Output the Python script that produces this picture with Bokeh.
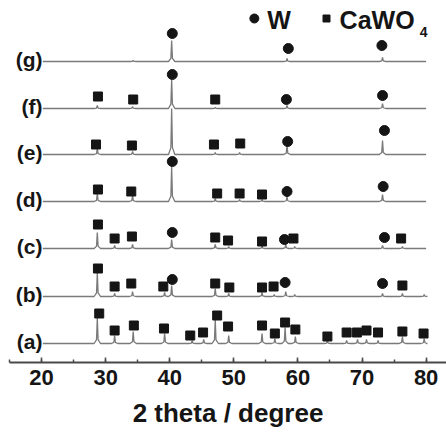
from bokeh.plotting import figure
from bokeh.models import Range1d, SingleIntervalTicker
from bokeh.embed import file_html
from bokeh.resources import INLINE
from bokeh.core.properties import value

# ---------------- data ----------------
scan_start = 20.2
scan_end = 80.0
x_title = "2 theta / degree"

sample_labels = ["(a)", "(b)", "(c)", "(d)", "(e)", "(f)", "(g)"]
# vertical stacking offset of each pattern (px above the axis)
stack_offset = [19, 66, 114, 161, 208, 254, 301]

# peak positions (2theta) and peak intensities (arb., px)
a_peak_pos = [28.7, 31.4, 34.3, 39.2, 43.5, 45.3, 47.1, 49.2, 54.4, 56.4, 58.0, 59.6, 64.6, 67.6, 69.3, 70.7, 72.5, 76.3, 79.7]
a_peak_int = [26, 8, 12, 10, 3, 4, 24, 8, 10, 5, 16, 7, 3, 3, 4, 4, 3, 7, 5]
b_peak_pos = [28.7, 31.4, 34.2, 39.2, 40.3, 47.1, 49.2, 54.4, 56.3, 58.1, 59.5, 73.2, 76.3, 79.7]
b_peak_int = [24, 3, 5, 4, 11, 8, 3, 4, 2, 5, 2, 3, 3, 2]
c_peak_pos = [28.7, 31.4, 34.2, 40.3, 47.1, 49.2, 54.4, 58.1, 59.5, 73.2, 76.3]
c_peak_int = [16, 3, 4, 9, 4, 2, 3, 4, 2, 3, 2]
d_peak_pos = [28.7, 34.2, 40.3, 47.1, 50.9, 54.4, 58.3, 73.2]
d_peak_int = [8, 6, 35, 3, 2, 2, 5, 7]
e_peak_pos = [28.7, 34.2, 40.3, 47.1, 50.9, 58.3, 73.2]
e_peak_int = [6, 3, 46, 2, 2, 9, 14]
f_peak_pos = [28.7, 34.2, 40.3, 47.1, 58.3, 73.2]
f_peak_int = [3, 2, 29, 1, 3, 5]
g_peak_pos = [34.3, 40.3, 58.3, 73.2]
g_peak_int = [1, 21, 3, 4]

# phase markers: CaWO4 (squares) and W (circles), height above pattern
a_cawo4_x = [29.0, 31.4, 34.4, 39.1, 43.2, 45.2, 47.4, 49.1, 54.4, 56.4, 58.0, 59.6, 64.6, 67.6, 69.2, 70.7, 72.5, 76.3, 79.6]
a_cawo4_y = [30, 13, 18, 15, 8, 11, 28, 17, 18, 10, 21, 14, 7, 11, 11, 13, 11, 12, 10]
a_w_x = []
a_w_y = []
b_cawo4_x = [28.8, 31.4, 34.0, 39.0, 47.1, 49.3, 54.4, 56.2, 76.3]
b_cawo4_y = [28, 10, 13, 10, 13, 9, 9, 10, 11]
b_w_x = [40.4, 58.0, 73.2]
b_w_y = [17, 14, 13]
c_cawo4_x = [28.8, 31.4, 34.1, 47.1, 49.1, 54.4, 59.3, 76.1]
c_cawo4_y = [24, 10, 12, 11, 8, 7, 10, 10]
c_w_x = [40.4, 57.9, 73.5]
c_w_y = [16, 9, 11]
d_cawo4_x = [28.8, 34.0, 47.4, 50.9, 54.4]
d_cawo4_y = [12, 10, 8, 8, 7]
d_w_x = [40.4, 58.3, 73.3]
d_w_y = [40, 10, 15]
e_cawo4_x = [28.5, 34.1, 46.9, 51.0]
e_cawo4_y = [10, 9, 10, 11]
e_w_x = [58.4, 73.5]
e_w_y = [13, 24]
f_cawo4_x = [28.8, 34.3, 47.1]
f_cawo4_y = [12, 9, 9]
f_w_x = [40.4, 58.2, 73.2]
f_w_y = [34, 9, 13]
g_cawo4_x = []
g_cawo4_y = []
g_w_x = [40.4, 58.5, 73.1]
g_w_y = [28, 13, 16]

peak_pos = [a_peak_pos, b_peak_pos, c_peak_pos, d_peak_pos, e_peak_pos, f_peak_pos, g_peak_pos]
peak_int = [a_peak_int, b_peak_int, c_peak_int, d_peak_int, e_peak_int, f_peak_int, g_peak_int]
cawo4_x = [a_cawo4_x, b_cawo4_x, c_cawo4_x, d_cawo4_x, e_cawo4_x, f_cawo4_x, g_cawo4_x]
cawo4_y = [a_cawo4_y, b_cawo4_y, c_cawo4_y, d_cawo4_y, e_cawo4_y, f_cawo4_y, g_cawo4_y]
w_x = [a_w_x, b_w_x, c_w_x, d_w_x, e_w_x, f_w_x, g_w_x]
w_y = [a_w_y, b_w_y, c_w_y, d_w_y, e_w_y, f_w_y, g_w_y]

# ---------------- figure ----------------
FONT = "Liberation Sans"
INK = "#151515"
TRACE = "#7a7a7a"

p = figure(width=446, height=435, output_backend="svg", toolbar_location=None,
           x_range=Range1d(15.0, 83.18), y_range=Range1d(0, 362),
           y_axis_location=None, min_border_left=9, min_border_right=0,
           min_border_top=0, min_border_bottom=73)
p.outline_line_color = None
p.grid.visible = False
p.background_fill_color = "white"
p.border_fill_color = "white"

ax = p.xaxis[0]
ax.ticker = SingleIntervalTicker(interval=10, num_minor_ticks=2)
ax.axis_line_width = 2
ax.axis_line_color = "#4a4a4a"
ax.major_tick_in = 5
ax.major_tick_out = 0
ax.minor_tick_in = 3
ax.minor_tick_out = 0
ax.major_tick_line_width = 1.5
ax.minor_tick_line_width = 1.5
ax.major_tick_line_color = "#4a4a4a"
ax.minor_tick_line_color = "#4a4a4a"
ax.major_label_text_font = FONT
ax.major_label_text_font_style = "bold"
ax.major_label_text_font_size = "22px"
ax.major_label_text_color = INK
ax.major_label_standoff = 7
ax.axis_label = x_title
ax.axis_label_text_font = FONT
ax.axis_label_text_font_style = "bold"
ax.axis_label_text_font_size = "26px"
ax.axis_label_text_color = INK
ax.axis_label_standoff = 10


def pattern(pos, inten):
    xs = [scan_start]
    ys = [0.0]
    for c, h in sorted(zip(pos, inten)):
        xs += [c - 0.5, c - 0.12, c, c + 0.12, c + 0.5]
        ys += [0.0, 0.15 * h, h, 0.15 * h, 0.0]
    xs.append(scan_end)
    ys.append(0.0)
    return xs, ys


for i, lab in enumerate(sample_labels):
    off = stack_offset[i]
    xs, ys = pattern(peak_pos[i], peak_int[i])
    p.line(xs, [y + off for y in ys], line_color=TRACE, line_width=1.3)
    if cawo4_x[i]:
        p.scatter(cawo4_x[i], [y + off for y in cawo4_y[i]], marker="square",
                  size=9, fill_color=INK, line_color=INK)
    if w_x[i]:
        p.scatter(w_x[i], [y + off for y in w_y[i]], marker="circle",
                  size=10, fill_color=INK, line_color=INK)
    p.text(x=[20.15], y=[off + 2], text=[lab], text_align="right",
           text_baseline="middle", text_font=value(FONT),
           text_font_style="bold", text_font_size="21px", text_color=INK)

# legend (drawn by hand, as in the original)
p.scatter([53.2], [344], marker="circle", size=9, fill_color=INK, line_color=INK)
p.text(x=[55.2], y=[343], text=["W"], text_align="left", text_baseline="middle",
       text_font=value(FONT), text_font_style="bold", text_font_size="25px", text_color=INK)
p.scatter([64.46], [344], marker="square", size=7, fill_color=INK, line_color=INK)
p.text(x=[66.5], y=[343], text=["CaWO"], text_align="left", text_baseline="middle",
       text_font=value(FONT), text_font_style="bold", text_font_size="25px", text_color=INK)
p.text(x=[79.0], y=[330.5], text=["4"], text_align="left", text_baseline="middle",
       text_font=value(FONT), text_font_style="bold", text_font_size="14px", text_color=INK)

open("out.html", "w").write(file_html(p, INLINE))
